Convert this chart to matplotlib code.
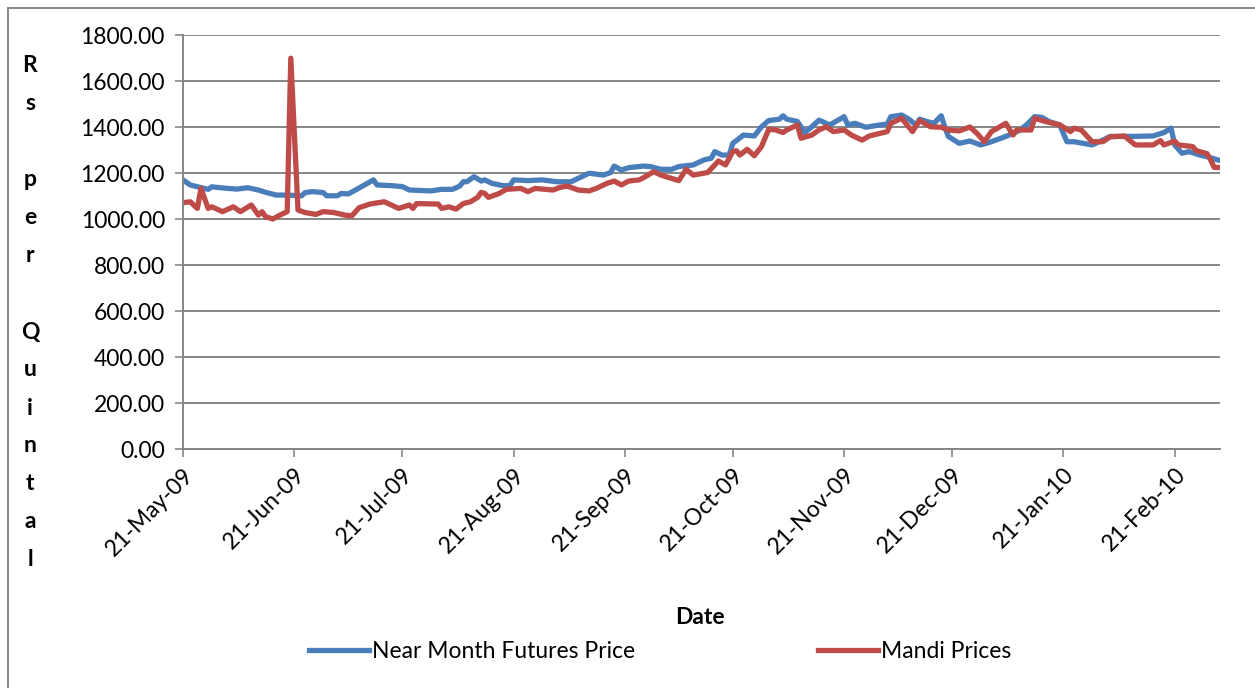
import matplotlib
matplotlib.use("Agg")
import matplotlib.pyplot as plt
import matplotlib.dates as mdates
from matplotlib.patches import Rectangle
import pandas as pd

start = pd.Timestamp("2009-05-21")

# days after 21-May-09
futures_days = [0, 2, 7, 8, 11, 15, 18, 21, 23, 26, 29, 33, 34, 36, 39, 40, 43, 44, 46, 48,
                53, 54, 58, 61, 63, 69, 72, 75, 77, 78, 79, 81, 83, 84, 86, 89, 91, 92, 96,
                100, 104, 108, 110, 113, 117, 119, 120, 122, 124, 128, 130, 133, 136, 138,
                142, 145, 147, 148, 150, 152, 153, 156, 159, 161, 163, 166, 167, 168, 171,
                173, 175, 177, 180, 184, 185, 187, 190, 194, 196, 197, 200, 202, 204, 205,
                207, 209, 211, 212, 213, 216, 219, 222, 225, 229, 233, 235, 237, 239, 241,
                244, 246, 248, 253, 256, 258, 264, 270, 273, 275, 276, 278, 280, 283, 285, 288]
futures_price = [1170, 1148, 1129, 1140, 1135, 1130, 1136, 1126, 1116, 1104, 1104, 1101, 1115,
                 1119, 1115, 1101, 1101, 1111, 1109, 1126, 1170, 1148, 1145, 1141, 1126, 1122,
                 1129, 1129, 1143, 1162, 1162, 1184, 1165, 1170, 1155, 1145, 1145, 1170, 1167,
                 1170, 1162, 1162, 1177, 1199, 1191, 1202, 1230, 1213, 1223, 1230, 1228, 1216,
                 1216, 1228, 1235, 1257, 1264, 1293, 1278, 1278, 1329, 1365, 1361, 1401, 1428,
                 1434, 1449, 1434, 1424, 1376, 1401, 1430, 1409, 1445, 1409, 1416, 1399, 1409,
                 1413, 1445, 1452, 1434, 1409, 1434, 1424, 1416, 1449, 1401, 1359, 1329, 1339,
                 1322, 1336, 1359, 1387, 1413, 1445, 1442, 1424, 1409, 1336, 1336, 1322, 1343,
                 1359, 1359, 1361, 1376, 1395, 1322, 1286, 1293, 1278, 1271, 1257]

mandi_days = [0, 2, 4, 5, 7, 8, 11, 14, 16, 19, 21, 22, 23, 25, 27, 29, 30, 32, 34, 37, 39,
              42, 45, 47, 49, 52, 56, 60, 63, 64, 65, 71, 72, 74, 76, 78, 80, 82, 83, 84, 85,
              88, 90, 94, 96, 98, 103, 105, 107, 110, 113, 115, 118, 120, 122, 124, 127, 129,
              131, 133, 135, 138, 140, 142, 146, 148, 149, 151, 153, 154, 155, 157, 159, 161,
              163, 165, 167, 168, 171, 172, 175, 177, 179, 181, 184, 186, 189, 191, 196, 197,
              200, 203, 205, 208, 211, 213, 216, 219, 221, 223, 225, 229, 231, 232, 236, 237,
              240, 244, 247, 248, 250, 253, 256, 258, 262, 265, 270, 272, 273, 276, 277, 281,
              282, 285, 286, 287, 288]
mandi_price = [1071, 1075, 1046, 1133, 1046, 1053, 1032, 1053, 1032, 1061, 1017, 1032, 1010,
               1000, 1017, 1032, 1699, 1039, 1028, 1020, 1032, 1028, 1017, 1014, 1049, 1065,
               1075, 1046, 1061, 1046, 1067, 1065, 1046, 1053, 1043, 1067, 1075, 1094, 1116,
               1111, 1094, 1111, 1129, 1133, 1119, 1133, 1126, 1138, 1143, 1126, 1122, 1133,
               1155, 1165, 1148, 1165, 1170, 1187, 1206, 1191, 1181, 1167, 1216, 1191, 1202,
               1235, 1252, 1235, 1293, 1297, 1278, 1303, 1275, 1315, 1390, 1387, 1376, 1387,
               1409, 1351, 1365, 1387, 1401, 1380, 1387, 1365, 1343, 1361, 1380, 1416, 1438,
               1380, 1428, 1401, 1399, 1387, 1383, 1400, 1372, 1336, 1380, 1416, 1365, 1387,
               1387, 1438, 1424, 1409, 1380, 1395, 1387, 1336, 1336, 1357, 1361, 1322, 1322,
               1341, 1322, 1339, 1322, 1315, 1297, 1284, 1257, 1224, 1224]

y_ticks = [0, 200, 400, 600, 800, 1000, 1200, 1400, 1600, 1800]
y_label_letters = ["R", "s", "", "p", "e", "r", "", "Q", "u", "i", "n", "t", "a", "l"]

futures_dates = start + pd.to_timedelta(futures_days, unit="D")
mandi_dates = start + pd.to_timedelta(mandi_days, unit="D")

plt.rcParams["font.family"] = ["Lato", "DejaVu Sans"]
grey = "#868686"
fs = 16.5

fig = plt.figure(figsize=(12.55, 6.88), dpi=100)
ax = fig.add_axes([183 / 1255, 1 - 449 / 688, (1220 - 183) / 1255, (449 - 35) / 688])

ax.plot(futures_dates, futures_price, color="#4A7EBB", lw=3.8,
        label="Near Month Futures Price", solid_joinstyle="round")
ax.plot(mandi_dates, mandi_price, color="#BE4B48", lw=3.8,
        label="Mandi Prices", solid_joinstyle="round")

ax.set_ylim(0, 1800)
ax.set_yticks(y_ticks)
ax.set_yticklabels([f"{v:.2f}" for v in y_ticks])
ax.set_xlim(start, start + pd.Timedelta(days=288.6))
ax.xaxis.set_major_locator(mdates.MonthLocator(bymonthday=21))
ax.xaxis.set_major_formatter(mdates.DateFormatter("%d-%b-%y"))

ax.grid(axis="y", color=grey, lw=1.4)
ax.set_axisbelow(True)
for side in ["top", "right"]:
    ax.spines[side].set_visible(False)
for side in ["left", "bottom"]:
    ax.spines[side].set_color(grey)
    ax.spines[side].set_linewidth(1.4)

ax.tick_params(axis="y", colors=grey, length=6, width=1.2, labelsize=fs,
               labelcolor="black", pad=7)
ax.tick_params(axis="x", colors=grey, length=6, width=1.2, labelsize=fs,
               labelcolor="black", pad=5)
for lbl in ax.get_xticklabels():
    lbl.set_rotation(45)
    lbl.set_ha("right")
    lbl.set_rotation_mode("anchor")

# stacked y label
for i, ch in enumerate(y_label_letters):
    fig.text(30 / 1255, 1 - (66 + 38 * i) / 688, ch, fontsize=fs, fontweight="bold",
             ha="center", va="center")

fig.text(700 / 1255, 1 - 617 / 688, "Date", fontsize=fs, fontweight="bold",
         ha="center", va="center")

fig.legend(loc="center", bbox_to_anchor=(660 / 1255, 1 - 652 / 688), ncol=2,
           frameon=False, fontsize=fs, handlelength=2.6, handletextpad=0.13,
           columnspacing=8.0)

fig.add_artist(Rectangle((8 / 1255, -0.1), 1.2, 1.1 - 8 / 688,
                         transform=fig.transFigure, fill=False, edgecolor=grey, lw=1.4))

fig.savefig("out.png", dpi=100)
